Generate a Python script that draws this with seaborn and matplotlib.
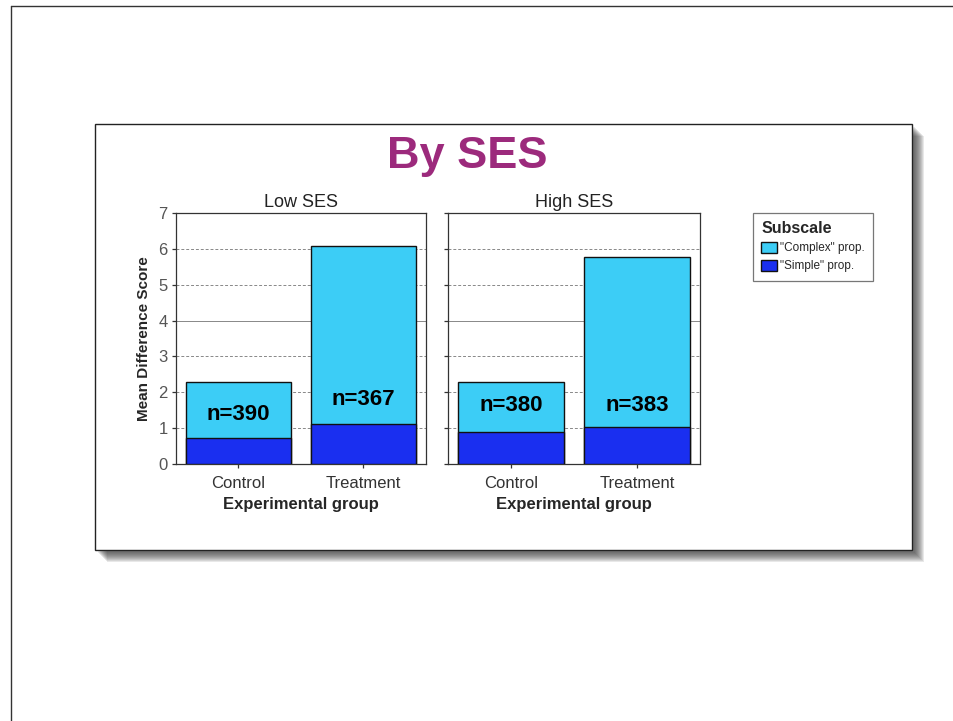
import pandas as pd
import seaborn as sns
import matplotlib.pyplot as plt
from matplotlib.patches import Rectangle, Patch
from matplotlib.lines import Line2D

sns.set_theme(style="white")
plt.rcParams["font.family"] = ["Liberation Sans", "DejaVu Sans"]

# =========================
# Data
# =========================
panels = ["Low SES", "High SES"]
groups = ["Control", "Treatment"]
total_low = [2.28, 6.07]      # complex + simple (bar top)
simple_low = [0.72, 1.12]
total_high = [2.28, 5.78]
simple_high = [0.90, 1.03]
n_low = ["n=390", "n=367"]
n_high = ["n=380", "n=383"]

df = pd.DataFrame({
    "ses": [panels[0]] * 2 + [panels[1]] * 2,
    "group": groups * 2,
    "total": total_low + total_high,
    "simple": simple_low + simple_high,
    "n": n_low + n_high,
})

cyan = "#3ccdf6"
blue = "#1a2ff0"
title_purple = "#9c2a7c"

fig = plt.figure(figsize=(9.54, 7.21), dpi=100)
fig.patch.set_facecolor("white")

# page border (top and left edges visible)
fig.add_artist(Line2D([11 / 954, 11 / 954], [0, 715 / 721], color="#333333", lw=1.0))
fig.add_artist(Line2D([11 / 954, 1], [715 / 721, 715 / 721], color="#333333", lw=1.0))

# inner slide box with soft shadow
bx0, bx1 = 95 / 954, 912 / 954
by0, by1 = (721 - 550) / 721, (721 - 124) / 721
for k in range(10):
    off = 12 - k
    fig.add_artist(Rectangle((bx0 + off / 954, by0 - off / 721), bx1 - bx0, by1 - by0,
                             transform=fig.transFigure, facecolor="#333333",
                             edgecolor="none", alpha=0.11, zorder=0))
fig.add_artist(Rectangle((bx0, by0), bx1 - bx0, by1 - by0, transform=fig.transFigure,
                         facecolor="white", edgecolor="#222222", lw=1.0, zorder=1))

fig.text(0.4895, 0.783, "By SES", ha="center", va="center", fontsize=32.5,
         fontweight="bold", color=title_purple, zorder=3)

ax_pos = [
    [176 / 954, (721 - 464) / 721, 250 / 954, 251 / 721],
    [448 / 954, (721 - 464) / 721, 252 / 954, 251 / 721],
]
n_label_y = [[1.38, 1.80], [1.62, 1.62]]

for i, ses in enumerate(panels):
    ax = fig.add_axes(ax_pos[i], zorder=4)
    sub = df[df["ses"] == ses]
    sns.barplot(data=sub, x="group", y="total", color=cyan, width=0.84,
                edgecolor="#111111", linewidth=1.0, saturation=1, ax=ax, zorder=3)
    sns.barplot(data=sub, x="group", y="simple", color=blue, width=0.84,
                edgecolor="#111111", linewidth=1.0, saturation=1, ax=ax, zorder=3)
    ax.set_ylim(0, 7)
    ax.set_xlim(-0.5, 1.5)
    ax.set_yticks(range(8))
    for yv in [1, 2, 3, 5, 6]:
        ax.axhline(yv, color="#888888", lw=0.7, ls=(0, (3, 2)), zorder=1)
    ax.axhline(4, color="#888888", lw=0.7, zorder=1)
    for spine in ax.spines.values():
        spine.set_color("#333333")
        spine.set_linewidth(0.9)
    ax.tick_params(axis="both", direction="out", length=3, width=0.9,
                   colors="#333333", labelsize=12, left=True, bottom=True)
    ax.tick_params(axis="x", labelcolor="#333333", pad=6)
    ax.tick_params(axis="y", labelcolor="#555555", pad=3)
    ax.set_title(ses, fontsize=13, color="#222222", pad=4)
    ax.set_xlabel("Experimental group", fontsize=12, fontweight="bold", labelpad=4)
    if i == 0:
        ax.set_ylabel("Mean Difference Score", fontsize=11, fontweight="bold", labelpad=5)
    else:
        ax.set_ylabel("")
        ax.set_yticklabels([])
    for j, lab in enumerate(sub["n"]):
        ax.text(j, n_label_y[i][j], lab, ha="center", va="center", fontsize=16,
                fontweight="bold", color="black", zorder=5)

handles = [Patch(facecolor=cyan, edgecolor="#111111", label='"Complex" prop.'),
           Patch(facecolor=blue, edgecolor="#111111", label='"Simple" prop.')]
leg = fig.legend(handles=handles, title="Subscale", loc="upper left",
                 bbox_to_anchor=(753 / 954, (721 - 213) / 721), borderaxespad=0,
                 fontsize=8.5,
                 title_fontproperties={"weight": "bold", "size": 11.5},
                 frameon=True, fancybox=False, edgecolor="#555555",
                 handlelength=1.3, handleheight=1.1, handletextpad=0.3,
                 labelspacing=0.45, borderpad=0.7, alignment="left")
leg.set_zorder(5)
leg.get_frame().set_linewidth(0.9)

fig.savefig("out.png", dpi=100)
